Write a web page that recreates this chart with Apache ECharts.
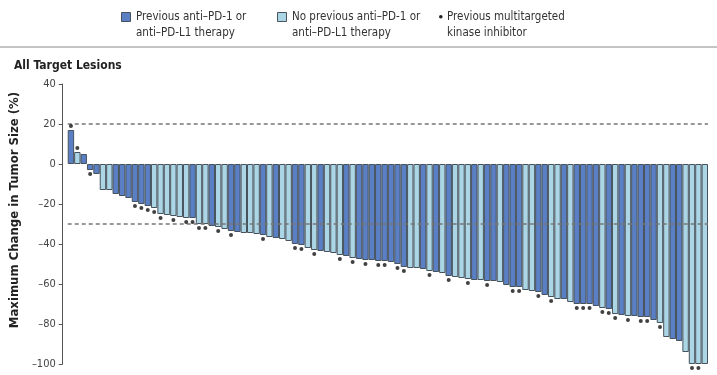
<!DOCTYPE html>
<html>
<head>
<meta charset="utf-8">
<script src="https://cdn.jsdelivr.net/npm/echarts@6/dist/echarts.min.js"></script>
<style>
  html, body { margin: 0; padding: 0; background: #fff; }
  #chart { width: 717px; height: 375px; }
</style>
</head>
<body>
<div id="chart"></div>
<script>
const FONT = "'Liberation Sans Narrow', 'DejaVu Sans Condensed', Roboto, sans-serif";
const DARK = '#5a7fc4';
const LIGHT = '#acd6e6';
const EDGE = '#46535d';

// maximum change in tumor size (%), one value per patient, sorted
const change = [
  17, 6, 5, -3, -5, -13, -13, -15, -16, -17,
  -19, -20, -21, -22, -25, -25.5, -26, -26.5, -27, -27,
  -30, -30, -31, -31.5, -32.5, -33.5, -34, -34.5, -34.5, -35,
  -35.5, -36.5, -37, -37.5, -38.5, -40, -40.5, -42, -43, -43.5,
  -44, -44.5, -45.5, -46, -47, -47.5, -48, -48, -48.5, -48.5,
  -49, -50, -51.5, -52, -52, -52.5, -53.5, -54, -54.5, -56,
  -56.5, -57, -57.5, -58, -58, -58.5, -58.5, -59, -60.5, -61.5,
  -61.5, -63, -63.5, -64, -65.5, -66.5, -67.5, -67.5, -69, -70,
  -70, -70, -71, -72, -72.5, -75, -75.5, -76, -76, -76.5,
  -76.5, -78, -79.5, -86.5, -87.5, -88.5, -94, -100, -100, -100
];

// 1 = previous anti-PD-1 or anti-PD-L1 therapy, 0 = none
const priorPD1 = [
  1, 0, 1, 1, 1, 0, 0, 1, 1, 1,
  1, 1, 1, 0, 0, 0, 0, 0, 0, 1,
  0, 0, 1, 0, 0, 1, 1, 0, 0, 0,
  1, 0, 1, 0, 0, 1, 1, 0, 0, 1,
  0, 0, 0, 1, 0, 1, 1, 1, 1, 1,
  1, 1, 1, 0, 0, 1, 0, 1, 0, 1,
  0, 0, 0, 1, 0, 1, 1, 0, 1, 1,
  1, 0, 0, 1, 1, 0, 0, 1, 0, 1,
  1, 1, 1, 0, 1, 0, 1, 0, 1, 1,
  1, 1, 0, 0, 1, 1, 0, 0, 0, 0
];

// 1 = previous multitargeted kinase inhibitor
const priorMKI = [
  1, 1, 0, 1, 0, 0, 0, 0, 0, 0,
  1, 1, 1, 1, 1, 0, 1, 0, 1, 1,
  1, 1, 0, 1, 0, 1, 0, 0, 0, 0,
  1, 0, 0, 0, 0, 1, 1, 0, 1, 0,
  0, 0, 1, 0, 1, 0, 1, 0, 1, 1,
  0, 1, 1, 0, 0, 0, 1, 0, 0, 1,
  0, 0, 1, 0, 0, 1, 0, 0, 0, 1,
  1, 0, 0, 1, 0, 1, 0, 0, 0, 1,
  1, 1, 0, 1, 1, 1, 0, 1, 0, 1,
  1, 0, 1, 0, 0, 0, 0, 1, 1, 0
];

const patients = change.map((_, i) => String(i + 1));
const refLines = [20, -30];

const chart = echarts.init(document.getElementById('chart'));

const barData = change.map((v, i) => ({
  value: v,
  itemStyle: { color: priorPD1[i] ? DARK : LIGHT }
}));

// dots sit just past the end of the bar
const dotData = [];
priorMKI.forEach((flag, i) => {
  if (!flag) return;
  dotData.push({
    value: [i, change[i]],
    symbolOffset: [0, change[i] >= 0 ? -4 : 4]
  });
});

const legendFont = '11.5px ' + FONT;

chart.setOption({
  animation: false,
  backgroundColor: '#fff',
  textStyle: { fontFamily: FONT },
  title: {
    text: 'All Target Lesions',
    left: 9,
    top: 55,
    textStyle: { fontFamily: FONT, fontSize: 12, fontWeight: 'bold', color: '#222' }
  },
  graphic: [
    { type: 'rect', left: 0, top: 46, shape: { width: 717, height: 2 }, style: { fill: '#c4c4c4' } },
    { type: 'rect', left: 121, top: 12, shape: { width: 9, height: 9 }, style: { fill: DARK, stroke: EDGE, lineWidth: 1 } },
    { type: 'text', left: 136, top: 9, style: { text: 'Previous anti\u2013PD-1 or\nanti\u2013PD-L1 therapy', font: legendFont, lineHeight: 16, fill: '#333' } },
    { type: 'rect', left: 277, top: 12, shape: { width: 9, height: 9 }, style: { fill: LIGHT, stroke: EDGE, lineWidth: 1 } },
    { type: 'text', left: 292, top: 9, style: { text: 'No previous anti\u2013PD-1 or\nanti\u2013PD-L1 therapy', font: legendFont, lineHeight: 16, fill: '#333' } },
    { type: 'circle', left: 439, top: 15, shape: { r: 1.8 }, style: { fill: '#222' } },
    { type: 'text', left: 447, top: 9, style: { text: 'Previous multitargeted\nkinase inhibitor', font: legendFont, lineHeight: 16, fill: '#333' } }
  ],
  grid: { left: 63, right: 9, top: 84, bottom: 11, containLabel: false },
  xAxis: {
    type: 'category',
    data: patients,
    show: false
  },
  yAxis: {
    type: 'value',
    min: -100,
    max: 40,
    interval: 20,
    offset: 5,
    name: 'Maximum Change in Tumor Size (%)',
    nameLocation: 'middle',
    nameGap: 34,
    nameTextStyle: { fontFamily: FONT, fontSize: 13, fontWeight: 'bold', color: '#222', padding: [0, 0, 0, 28] },
    axisLine: { show: true, lineStyle: { color: '#555', width: 1 } },
    axisTick: { show: true, length: 4, lineStyle: { color: '#555' } },
    axisLabel: {
      color: '#444',
      fontSize: 11,
      fontFamily: FONT,
      margin: 7,
      formatter: (v) => String(v).replace('-', '\u2013')
    },
    splitLine: { show: false }
  },
  series: [
    {
      type: 'bar',
      data: barData,
      barCategoryGap: '0%',
      itemStyle: { borderColor: EDGE, borderWidth: 1 },
      markLine: {
        silent: true,
        symbol: 'none',
        label: { show: false },
        lineStyle: { color: '#777', type: [4, 3], width: 1.5 },
        data: refLines.map((y) => ({ yAxis: y }))
      }
    },
    {
      type: 'scatter',
      data: dotData,
      symbol: 'circle',
      symbolSize: 4,
      itemStyle: { color: '#111' },
      z: 5
    }
  ]
});
</script>
</body>
</html>
